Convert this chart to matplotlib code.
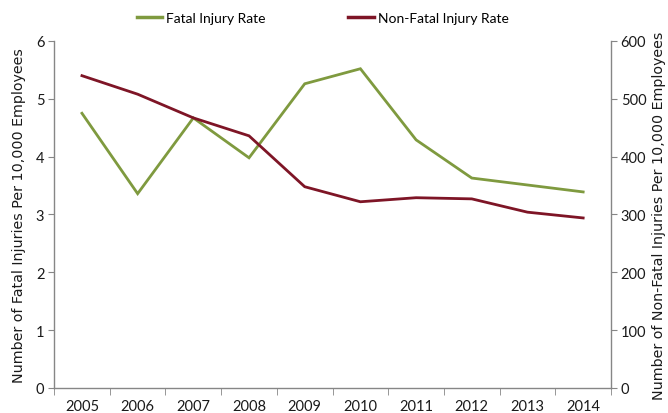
import numpy as np
import matplotlib.pyplot as plt
from matplotlib.lines import Line2D

# Datos
years = ['2005', '2006', '2007', '2008', '2009', '2010', '2011', '2012', '2013', '2014']
fatal_rate = [4.75, 3.36, 4.67, 3.98, 5.26, 5.52, 4.29, 3.63, 3.51, 3.39]
nonfatal_rate = [540, 508, 467, 436, 348, 322, 329, 327, 304, 294]

green = '#7F9A3F'
red = '#7E1526'
axis_gray = '#868686'
tick_font = 'Lato'

fig = plt.figure(figsize=(6.68, 4.14), dpi=100)
ax = fig.add_axes([0.081, 0.0604, 0.8337, 0.8382])
ax2 = ax.twinx()

x = np.arange(len(years))
ax.plot(x, fatal_rate, color=green, lw=2.0, solid_joinstyle='miter')
ax2.plot(x, nonfatal_rate, color=red, lw=2.0, solid_joinstyle='miter')

# Ejes
ax.set_xlim(-0.5, len(years) - 0.5)
ax.set_ylim(0, 6)
ax2.set_ylim(0, 600)
ax.set_yticks(range(0, 7))
ax2.set_yticks(range(0, 700, 100))
ax.set_xticks(x)
ax.set_xticklabels(years)
ax.set_xticks(np.arange(-0.5, len(years)), minor=True)
ax.tick_params(axis='x', which='major', length=0, pad=8)
ax.tick_params(axis='x', which='minor', length=5, color=axis_gray, direction='out')

for a in (ax, ax2):
    a.spines['top'].set_visible(False)
    for s in ('left', 'right', 'bottom'):
        a.spines[s].set_color(axis_gray)
        a.spines[s].set_linewidth(1.0)
    a.tick_params(axis='y', length=4, color=axis_gray, direction='out', pad=3)
    for lab in a.get_xticklabels() + a.get_yticklabels():
        lab.set_fontfamily(tick_font)
        lab.set_fontsize(10.5)
        lab.set_color('#1a1a1a')
ax.spines['right'].set_visible(False)
ax2.spines['left'].set_visible(False)
ax2.spines['bottom'].set_visible(False)

ax.set_ylabel('Number of Fatal Injuries Per 10,000 Employees', fontsize=10.3,
              color='#1a1a1a', labelpad=7)
ax2.set_ylabel('Number of Non-Fatal Injuries Per 10,000 Employees', fontsize=10.3,
               color='#1a1a1a', labelpad=4)

# Leyenda
handles = [Line2D([], [], color=green, lw=2.5), Line2D([], [], color=red, lw=2.5)]
fig.legend(handles, ['Fatal Injury Rate', 'Non-Fatal Injury Rate'], ncol=2,
           loc='center', bbox_to_anchor=(0.483, 0.955), frameon=False,
           handlelength=1.85, handletextpad=0.3, columnspacing=5.9,
           prop={'family': tick_font, 'size': 10})

fig.savefig('out.png', dpi=100)
